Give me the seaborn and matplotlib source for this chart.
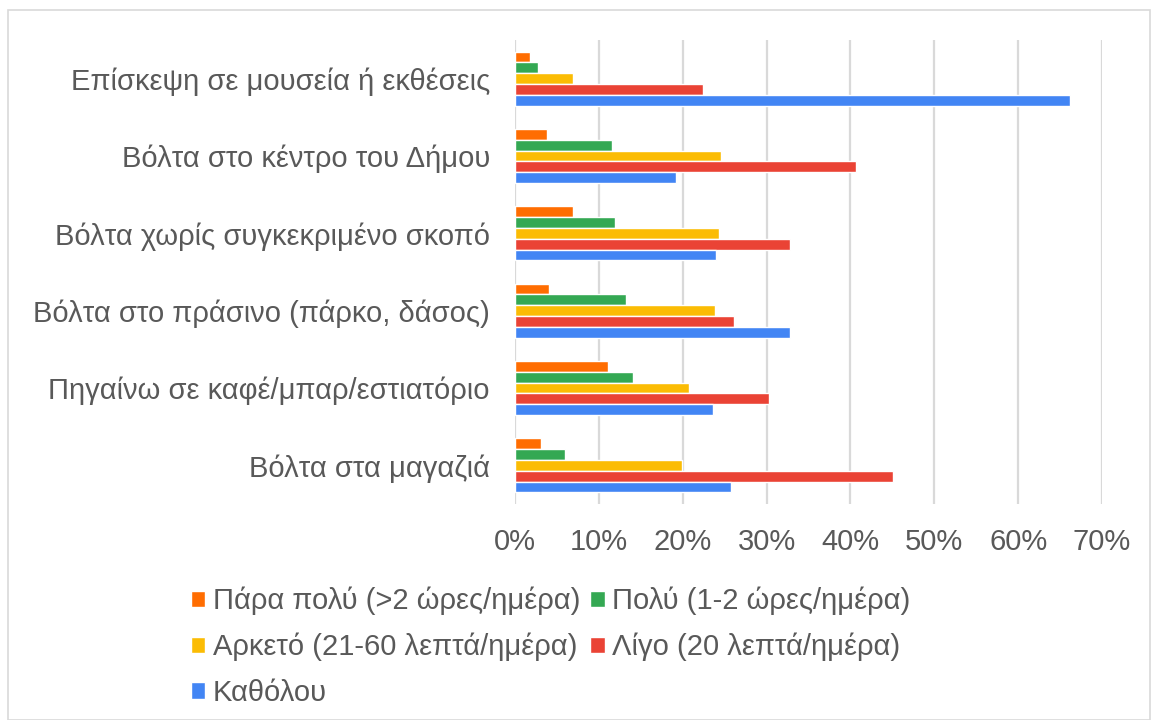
import matplotlib
matplotlib.use("Agg")
import matplotlib.pyplot as plt
import seaborn as sns
import pandas as pd
from matplotlib.patches import Rectangle
from matplotlib.ticker import FuncFormatter

categories = [
    "Επίσκεψη σε μουσεία ή εκθέσεις",
    "Βόλτα στο κέντρο του Δήμου",
    "Βόλτα χωρίς συγκεκριμένο σκοπό",
    "Βόλτα στο πράσινο (πάρκο, δάσος)",
    "Πηγαίνω σε καφέ/μπαρ/εστιατόριο",
    "Βόλτα στα μαγαζιά",
]
series = [
    "Πάρα πολύ (>2 ώρες/ημέρα)",
    "Πολύ (1-2 ώρες/ημέρα)",
    "Αρκετό (21-60 λεπτά/ημέρα)",
    "Λίγο (20 λεπτά/ημέρα)",
    "Καθόλου",
]
para_poly = [1.8, 3.8, 6.9, 4.0, 11.1, 3.1]
poly = [2.7, 11.6, 11.9, 13.2, 14.1, 6.0]
arketo = [6.9, 24.6, 24.3, 23.9, 20.8, 19.9]
ligo = [22.4, 40.7, 32.8, 26.1, 30.3, 45.1]
katholou = [66.2, 19.2, 24.0, 32.8, 23.6, 25.8]
colors = ["#FF6D01", "#34A853", "#FBBC04", "#EA4335", "#4285F4"]

values = [para_poly, poly, arketo, ligo, katholou]
rows = []
for s, vals in zip(series, values):
    for c, v in zip(categories, vals):
        rows.append({"cat": c, "series": s, "value": v})
df = pd.DataFrame(rows)

sns.set_theme(style="white")
plt.rcParams["font.family"] = ["Liberation Sans", "DejaVu Sans"]

fig = plt.figure(figsize=(11.55, 7.2), dpi=100)
W, H = 1155, 720
ax = fig.add_axes([515 / W, 1 - 504 / H, (1102 - 515) / W, (504 - 40) / H])

sns.barplot(data=df, y="cat", x="value", hue="series", order=categories,
            hue_order=series, palette=colors, orient="h", width=0.7,
            saturation=1, ax=ax, legend=True)

FS = 21
ax.set_xlim(0, 70)
ax.set_xticks(range(0, 71, 10))
ax.xaxis.set_major_formatter(FuncFormatter(lambda v, p: f"{int(v)}%"))
ax.grid(axis="x", color="#d9d9d9", linewidth=1.6)
ax.set_axisbelow(True)
for sp in ax.spines.values():
    sp.set_visible(False)
ax.set_xlabel("")
ax.set_ylabel("")
ax.tick_params(axis="x", length=0, pad=17, labelsize=FS, labelcolor="#595959")
ax.tick_params(axis="y", length=0, pad=18, labelsize=FS, labelcolor="#595959")

handles, labels = ax.get_legend_handles_labels()
ax.get_legend().remove()
order = [0, 2, 4, 1, 3]
fig.legend([handles[i] for i in order], [labels[i] for i in order],
           loc="upper left", bbox_to_anchor=(179 / W, 1 - 575 / H), ncol=2,
           frameon=False, fontsize=FS, labelcolor="#595959",
           handlelength=0.5, handleheight=0.5, handletextpad=0.25,
           columnspacing=0.35, labelspacing=0.6, borderaxespad=0)

fig.patches.append(Rectangle((8 / W, 0), (1150 - 8) / W, 1 - 10 / H,
                             transform=fig.transFigure, fill=False,
                             edgecolor="#d9d9d9", linewidth=1.2))

fig.savefig("out.png", dpi=100)
